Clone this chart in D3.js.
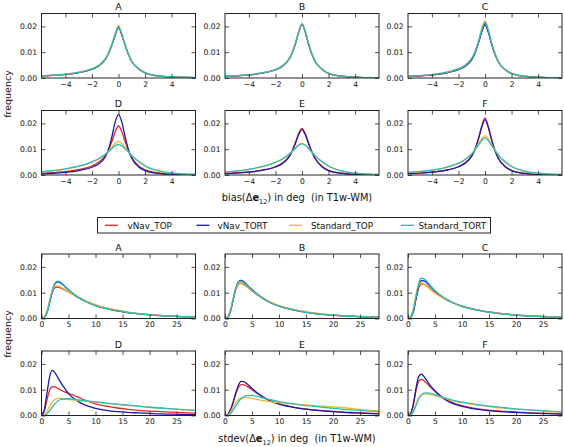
<!DOCTYPE html>
<html><head><meta charset="utf-8">
<script src="https://cdn.jsdelivr.net/npm/d3@7"></script>
<style>
html,body{margin:0;padding:0;background:#fff;}
svg{display:block;font-family:"DejaVu Sans",sans-serif;}
</style></head>
<body>
<svg id="chart" width="564" height="447"></svg>
<script>
// ---------- data ----------
const seriesNames = ["vNav_TOP","vNav_TORT","Standard_TOP","Standard_TORT"];
const panelNames = ["A","B","C","D","E","F"];
const biasTicks = [-4,-2,0,2,4];
const stdTicks = [0,5,10,15,20,25];
const yTicks = [0,0.01,0.02];
const biasX = [-5.8,-5,-4,-3,-2,-1.5,-1,-0.75,-0.5,-0.25,0,0.25,0.5,0.75,1,1.5,2,3,4,5,5.8];
const stdX = [0,0.5,1,1.5,2,2.5,3,3.5,4,5,6,7,8,10,12,14,16,18,20,22,24,26,28.5];

// bias panels
const biasA_vNav_TOP      = [0.0008,0.0010,0.0014,0.0021,0.0034,0.0047,0.0072,0.0095,0.0128,0.0167,0.0196,0.0168,0.0127,0.0091,0.0064,0.0036,0.0020,0.0008,0.0004,0.0002,0.0001];
const biasA_vNav_TORT     = [0.0008,0.0010,0.0014,0.0021,0.0034,0.0047,0.0072,0.0095,0.0128,0.0166,0.0195,0.0167,0.0127,0.0091,0.0064,0.0036,0.0020,0.0008,0.0004,0.0002,0.0001];
const biasA_Standard_TOP  = [0.0008,0.0011,0.0015,0.0023,0.0036,0.0049,0.0074,0.0097,0.0131,0.0172,0.0203,0.0172,0.0129,0.0092,0.0064,0.0035,0.0019,0.0008,0.0004,0.0002,0.0001];
const biasA_Standard_TORT = [0.0008,0.0010,0.0014,0.0022,0.0035,0.0048,0.0073,0.0096,0.0130,0.0169,0.0199,0.0170,0.0128,0.0092,0.0064,0.0036,0.0020,0.0008,0.0004,0.0002,0.0001];

const biasB_vNav_TOP      = [0.0006,0.0008,0.0012,0.0019,0.0032,0.0045,0.0071,0.0096,0.0133,0.0178,0.0209,0.0178,0.0131,0.0092,0.0063,0.0034,0.0018,0.0007,0.0003,0.0001,0.0001];
const biasB_vNav_TORT     = [0.0006,0.0008,0.0012,0.0019,0.0032,0.0045,0.0071,0.0096,0.0132,0.0177,0.0208,0.0177,0.0130,0.0092,0.0063,0.0034,0.0018,0.0007,0.0003,0.0001,0.0001];
const biasB_Standard_TOP  = [0.0007,0.0009,0.0013,0.0020,0.0033,0.0046,0.0072,0.0097,0.0134,0.0180,0.0212,0.0180,0.0132,0.0093,0.0063,0.0034,0.0018,0.0007,0.0003,0.0001,0.0001];
const biasB_Standard_TORT = [0.0006,0.0009,0.0013,0.0020,0.0033,0.0046,0.0072,0.0096,0.0133,0.0179,0.0210,0.0179,0.0131,0.0092,0.0063,0.0034,0.0018,0.0007,0.0003,0.0001,0.0001];

const biasC_vNav_TOP      = [0.0006,0.0008,0.0012,0.0019,0.0033,0.0046,0.0072,0.0098,0.0136,0.0182,0.0212,0.0181,0.0133,0.0093,0.0063,0.0033,0.0017,0.0006,0.0003,0.0001,0.0001];
const biasC_vNav_TORT     = [0.0006,0.0008,0.0012,0.0019,0.0033,0.0046,0.0071,0.0097,0.0134,0.0178,0.0206,0.0177,0.0131,0.0092,0.0063,0.0033,0.0017,0.0006,0.0003,0.0001,0.0001];
const biasC_Standard_TOP  = [0.0007,0.0009,0.0014,0.0022,0.0036,0.0050,0.0077,0.0103,0.0142,0.0190,0.0222,0.0189,0.0137,0.0095,0.0064,0.0033,0.0017,0.0006,0.0003,0.0001,0.0001];
const biasC_Standard_TORT = [0.0007,0.0009,0.0013,0.0021,0.0035,0.0048,0.0075,0.0101,0.0139,0.0186,0.0216,0.0185,0.0135,0.0094,0.0064,0.0034,0.0018,0.0007,0.0003,0.0001,0.0001];

const biasD_vNav_TOP      = [0.0006,0.0009,0.0013,0.0021,0.0035,0.0049,0.0075,0.0098,0.0130,0.0168,0.0190,0.0168,0.0130,0.0094,0.0068,0.0036,0.0020,0.0008,0.0003,0.0001,0.0001];
const biasD_vNav_TORT     = [0.0004,0.0006,0.0010,0.0017,0.0030,0.0043,0.0070,0.0100,0.0148,0.0205,0.0235,0.0205,0.0148,0.0098,0.0065,0.0032,0.0017,0.0006,0.0002,0.0001,0.0000];
const biasD_Standard_TOP  = [0.0012,0.0016,0.0023,0.0033,0.0050,0.0062,0.0080,0.0093,0.0108,0.0122,0.0130,0.0122,0.0106,0.0090,0.0075,0.0052,0.0034,0.0015,0.0007,0.0003,0.0002];
const biasD_Standard_TORT = [0.0013,0.0017,0.0024,0.0034,0.0051,0.0063,0.0080,0.0091,0.0103,0.0114,0.0118,0.0113,0.0102,0.0089,0.0075,0.0054,0.0036,0.0017,0.0008,0.0004,0.0002];

const biasE_vNav_TOP      = [0.0006,0.0008,0.0012,0.0019,0.0032,0.0045,0.0070,0.0093,0.0125,0.0161,0.0181,0.0160,0.0123,0.0089,0.0064,0.0034,0.0018,0.0007,0.0003,0.0001,0.0001];
const biasE_vNav_TORT     = [0.0005,0.0007,0.0011,0.0018,0.0031,0.0044,0.0068,0.0091,0.0122,0.0157,0.0176,0.0156,0.0121,0.0088,0.0063,0.0032,0.0017,0.0006,0.0002,0.0001,0.0000];
const biasE_Standard_TOP  = [0.0011,0.0015,0.0022,0.0032,0.0049,0.0061,0.0079,0.0091,0.0105,0.0117,0.0123,0.0116,0.0103,0.0088,0.0074,0.0051,0.0034,0.0015,0.0007,0.0003,0.0002];
const biasE_Standard_TORT = [0.0011,0.0015,0.0022,0.0032,0.0049,0.0061,0.0079,0.0090,0.0103,0.0115,0.0121,0.0115,0.0102,0.0088,0.0074,0.0052,0.0035,0.0016,0.0007,0.0003,0.0002];

const biasF_vNav_TOP      = [0.0005,0.0007,0.0011,0.0018,0.0032,0.0046,0.0074,0.0101,0.0140,0.0189,0.0221,0.0188,0.0137,0.0096,0.0066,0.0034,0.0018,0.0006,0.0002,0.0001,0.0000];
const biasF_vNav_TORT     = [0.0005,0.0007,0.0011,0.0018,0.0032,0.0046,0.0073,0.0100,0.0138,0.0185,0.0215,0.0184,0.0135,0.0095,0.0065,0.0033,0.0017,0.0006,0.0002,0.0001,0.0000];
const biasF_Standard_TOP  = [0.0009,0.0012,0.0018,0.0028,0.0045,0.0059,0.0082,0.0099,0.0120,0.0141,0.0153,0.0140,0.0118,0.0097,0.0078,0.0050,0.0032,0.0013,0.0006,0.0003,0.0002];
const biasF_Standard_TORT = [0.0010,0.0013,0.0019,0.0029,0.0046,0.0060,0.0082,0.0097,0.0115,0.0133,0.0144,0.0133,0.0114,0.0096,0.0078,0.0052,0.0034,0.0015,0.0007,0.0003,0.0002];

// stdev panels
const stdA_vNav_TOP       = [0,0.0005,0.0025,0.0065,0.0103,0.0120,0.0122,0.0119,0.0114,0.0103,0.0091,0.0079,0.0069,0.0052,0.0040,0.0031,0.0024,0.0019,0.0015,0.0012,0.0009,0.0007,0.0005];
const stdA_vNav_TORT      = [0,0.0004,0.0022,0.0061,0.0106,0.0135,0.0142,0.0138,0.0130,0.0111,0.0094,0.0080,0.0068,0.0050,0.0038,0.0030,0.0023,0.0018,0.0014,0.0011,0.0009,0.0007,0.0005];
const stdA_Standard_TOP   = [0,0.0006,0.0028,0.0070,0.0108,0.0124,0.0126,0.0122,0.0116,0.0104,0.0092,0.0080,0.0070,0.0053,0.0041,0.0032,0.0025,0.0019,0.0015,0.0012,0.0009,0.0007,0.0005];
const stdA_Standard_TORT  = [0,0.0004,0.0022,0.0062,0.0108,0.0138,0.0145,0.0141,0.0132,0.0112,0.0094,0.0080,0.0068,0.0050,0.0038,0.0030,0.0023,0.0018,0.0014,0.0011,0.0009,0.0007,0.0005];

const stdB_vNav_TOP       = [0,0.0005,0.0028,0.0072,0.0113,0.0133,0.0137,0.0132,0.0124,0.0107,0.0091,0.0078,0.0066,0.0049,0.0037,0.0029,0.0022,0.0017,0.0013,0.0010,0.0008,0.0006,0.0005];
const stdB_vNav_TORT      = [0,0.0005,0.0027,0.0072,0.0118,0.0143,0.0148,0.0142,0.0132,0.0112,0.0094,0.0079,0.0066,0.0048,0.0036,0.0028,0.0021,0.0016,0.0013,0.0010,0.0008,0.0006,0.0004];
const stdB_Standard_TOP   = [0,0.0007,0.0032,0.0077,0.0116,0.0133,0.0135,0.0130,0.0123,0.0107,0.0092,0.0079,0.0068,0.0050,0.0038,0.0030,0.0023,0.0018,0.0014,0.0011,0.0008,0.0006,0.0005];
const stdB_Standard_TORT  = [0,0.0005,0.0028,0.0074,0.0118,0.0141,0.0145,0.0139,0.0130,0.0110,0.0093,0.0079,0.0066,0.0048,0.0036,0.0028,0.0021,0.0016,0.0013,0.0010,0.0008,0.0006,0.0004];

const stdC_vNav_TOP       = [0,0.0006,0.0030,0.0080,0.0120,0.0134,0.0133,0.0126,0.0117,0.0100,0.0086,0.0074,0.0064,0.0048,0.0037,0.0029,0.0023,0.0018,0.0014,0.0011,0.0009,0.0007,0.0005];
const stdC_vNav_TORT      = [0,0.0005,0.0027,0.0078,0.0127,0.0147,0.0146,0.0138,0.0127,0.0106,0.0089,0.0075,0.0064,0.0047,0.0036,0.0028,0.0022,0.0017,0.0013,0.0010,0.0008,0.0006,0.0005];
const stdC_Standard_TOP   = [0,0.0008,0.0040,0.0095,0.0130,0.0138,0.0133,0.0125,0.0116,0.0099,0.0085,0.0073,0.0063,0.0048,0.0037,0.0029,0.0023,0.0018,0.0014,0.0011,0.0009,0.0007,0.0005];
const stdC_Standard_TORT  = [0,0.0006,0.0032,0.0088,0.0137,0.0156,0.0153,0.0143,0.0131,0.0108,0.0090,0.0076,0.0064,0.0047,0.0036,0.0028,0.0022,0.0017,0.0013,0.0010,0.0008,0.0006,0.0005];

const stdD_vNav_TOP       = [0,0.0015,0.0060,0.0098,0.0112,0.0111,0.0105,0.0099,0.0094,0.0086,0.0078,0.0069,0.0060,0.0045,0.0036,0.0029,0.0024,0.0020,0.0017,0.0015,0.0013,0.0011,0.0009];
const stdD_vNav_TORT      = [0,0.0020,0.0085,0.0150,0.0175,0.0165,0.0148,0.0130,0.0114,0.0085,0.0066,0.0052,0.0041,0.0028,0.0020,0.0015,0.0012,0.0010,0.0008,0.0006,0.0005,0.0004,0.0003];
const stdD_Standard_TOP   = [0,0.0002,0.0014,0.0035,0.0053,0.0062,0.0066,0.0066,0.0065,0.0062,0.0060,0.0058,0.0056,0.0052,0.0047,0.0043,0.0039,0.0036,0.0032,0.0029,0.0026,0.0023,0.0020];
const stdD_Standard_TORT  = [0,0.0001,0.0006,0.0018,0.0033,0.0046,0.0056,0.0062,0.0064,0.0065,0.0063,0.0060,0.0058,0.0053,0.0048,0.0044,0.0040,0.0036,0.0032,0.0029,0.0026,0.0023,0.0020];

const stdE_vNav_TOP       = [0,0.0004,0.0022,0.0052,0.0085,0.0110,0.0120,0.0119,0.0114,0.0100,0.0085,0.0072,0.0061,0.0045,0.0035,0.0028,0.0023,0.0019,0.0016,0.0013,0.0011,0.0009,0.0007];
const stdE_vNav_TORT      = [0,0.0003,0.0020,0.0050,0.0088,0.0118,0.0132,0.0131,0.0124,0.0105,0.0087,0.0072,0.0060,0.0044,0.0034,0.0027,0.0022,0.0018,0.0015,0.0012,0.0010,0.0008,0.0006];
const stdE_Standard_TOP   = [0,0.0002,0.0012,0.0032,0.0050,0.0062,0.0068,0.0070,0.0069,0.0066,0.0062,0.0058,0.0055,0.0050,0.0046,0.0042,0.0039,0.0036,0.0033,0.0030,0.0026,0.0022,0.0018];
const stdE_Standard_TORT  = [0,0.0001,0.0007,0.0020,0.0038,0.0053,0.0066,0.0073,0.0077,0.0078,0.0074,0.0068,0.0063,0.0054,0.0047,0.0041,0.0036,0.0032,0.0028,0.0024,0.0021,0.0018,0.0015];

const stdF_vNav_TOP       = [0,0.0008,0.0042,0.0098,0.0133,0.0140,0.0134,0.0124,0.0113,0.0094,0.0077,0.0063,0.0052,0.0038,0.0029,0.0023,0.0019,0.0016,0.0013,0.0011,0.0009,0.0008,0.0006];
const stdF_vNav_TORT      = [0,0.0008,0.0045,0.0108,0.0152,0.0160,0.0150,0.0135,0.0120,0.0095,0.0075,0.0060,0.0049,0.0035,0.0027,0.0021,0.0017,0.0014,0.0012,0.0010,0.0008,0.0007,0.0005];
const stdF_Standard_TOP   = [0,0.0003,0.0018,0.0045,0.0068,0.0080,0.0084,0.0084,0.0082,0.0077,0.0071,0.0065,0.0059,0.0050,0.0043,0.0037,0.0032,0.0028,0.0025,0.0022,0.0019,0.0016,0.0013];
const stdF_Standard_TORT  = [0,0.0002,0.0014,0.0040,0.0066,0.0081,0.0087,0.0088,0.0087,0.0081,0.0074,0.0067,0.0061,0.0052,0.0045,0.0039,0.0034,0.0030,0.0026,0.0023,0.0020,0.0017,0.0014];

// ---------- build tables ----------
const colors = ["#e0262a","#1a1aa8","#f2b630","#2bbcb8"];
const biasData = {
  A:[biasA_vNav_TOP,biasA_vNav_TORT,biasA_Standard_TOP,biasA_Standard_TORT],
  B:[biasB_vNav_TOP,biasB_vNav_TORT,biasB_Standard_TOP,biasB_Standard_TORT],
  C:[biasC_vNav_TOP,biasC_vNav_TORT,biasC_Standard_TOP,biasC_Standard_TORT],
  D:[biasD_vNav_TOP,biasD_vNav_TORT,biasD_Standard_TOP,biasD_Standard_TORT],
  E:[biasE_vNav_TOP,biasE_vNav_TORT,biasE_Standard_TOP,biasE_Standard_TORT],
  F:[biasF_vNav_TOP,biasF_vNav_TORT,biasF_Standard_TOP,biasF_Standard_TORT]
};
const stdData = {
  A:[stdA_vNav_TOP,stdA_vNav_TORT,stdA_Standard_TOP,stdA_Standard_TORT],
  B:[stdB_vNav_TOP,stdB_vNav_TORT,stdB_Standard_TOP,stdB_Standard_TORT],
  C:[stdC_vNav_TOP,stdC_vNav_TORT,stdC_Standard_TOP,stdC_Standard_TORT],
  D:[stdD_vNav_TOP,stdD_vNav_TORT,stdD_Standard_TOP,stdD_Standard_TORT],
  E:[stdE_vNav_TOP,stdE_vNav_TORT,stdE_Standard_TOP,stdE_Standard_TORT],
  F:[stdF_vNav_TOP,stdF_vNav_TORT,stdF_Standard_TOP,stdF_Standard_TORT]
};

// ---------- layout ----------
const svg = d3.select("#chart");
const colX = [41.5, 225, 408];
const pw = 154, ph = 64.5;
const topRows = [13.5, 110.5];
const botRows = [254, 351];
const axisColor = "#222";
const tickFont = 7.6;

function fmtMinus(d){ return d < 0 ? "\u2212" + Math.abs(d) : String(d); }

function drawPanel(x0, y0, name, xs, seriesList, xDomain, xTickVals, clipId){
  const g = svg.append("g").attr("transform", `translate(${x0},${y0})`);
  const x = d3.scaleLinear().domain(xDomain).range([0, pw]);
  const y = d3.scaleLinear().domain([0, 0.025]).range([ph, 0]);

  g.append("clipPath").attr("id", clipId).append("rect").attr("width", pw).attr("height", ph);
  const line = d3.line().x((d,i)=>x(xs[i])).y(d=>y(d)).curve(d3.curveMonotoneX);
  const lg = g.append("g").attr("clip-path", `url(#${clipId})`);
  seriesList.forEach((s, k) => {
    lg.append("path").datum(s).attr("d", line)
      .attr("fill", "none").attr("stroke", colors[k]).attr("stroke-width", 1.3)
      .attr("stroke-linejoin","round");
  });

  const tl = 4;
  const ax = g.append("g").attr("transform", `translate(0,${ph})`)
    .call(d3.axisBottom(x).tickValues(xTickVals).tickSizeInner(-tl).tickSizeOuter(0).tickPadding(3.5).tickFormat(fmtMinus));
  const axT = g.append("g")
    .call(d3.axisTop(x).tickValues(xTickVals).tickSizeInner(-tl).tickSizeOuter(0).tickFormat(""));
  const ay = g.append("g")
    .call(d3.axisLeft(y).tickValues(yTicks).tickSizeInner(-tl).tickSizeOuter(0).tickPadding(4.5).tickFormat(d3.format(".2f")));
  const ayR = g.append("g").attr("transform", `translate(${pw},0)`)
    .call(d3.axisRight(y).tickValues(yTicks).tickSizeInner(-tl).tickSizeOuter(0).tickFormat(""));
  [ax, axT, ay, ayR].forEach(a => {
    a.select(".domain").remove();
    a.selectAll("line").attr("stroke", axisColor).attr("stroke-width", 0.8);
    a.selectAll("text").attr("font-size", tickFont).attr("font-family", "DejaVu Sans").attr("fill", "#111");
  });
  g.append("rect").attr("width", pw).attr("height", ph)
    .attr("fill", "none").attr("stroke", axisColor).attr("stroke-width", 1);
  g.append("text").attr("x", pw/2).attr("y", -3.5).attr("text-anchor","middle")
    .attr("font-size", 9.5).attr("fill", "#111").text(name);
}

panelNames.forEach((p, i) => {
  const c = i % 3, r = Math.floor(i / 3);
  drawPanel(colX[c], topRows[r], p, biasX, biasData[p], [-5.8, 5.8], biasTicks, "cb" + i);
  drawPanel(colX[c], botRows[r], p, stdX, stdData[p], [0, 28.5], stdTicks, "cs" + i);
});

// y labels
function ylabel(cy){
  svg.append("text").attr("transform", `translate(11,${cy}) rotate(-90)`)
    .attr("text-anchor","middle").attr("font-size", 9.5).attr("fill","#111").text("frequency");
}
ylabel(94);
ylabel(334);

// x labels
function xlabel(cx, by, prefix){
  const t = svg.append("text").attr("x", cx).attr("y", by).attr("text-anchor","middle")
    .attr("font-size", 9.8).attr("fill","#111").style("white-space","pre");
  t.append("tspan").text(prefix + "(\u0394");
  t.append("tspan").attr("font-weight","bold").text("e");
  t.append("tspan").attr("font-size", 6.5).attr("dy", 2.5).text("12");
  t.append("tspan").attr("dy", -2.5).text(") in deg  (in T1w-WM)");
}
xlabel(297, 201, "bias");
xlabel(297, 442, "stdev");

// legend
const leg = svg.append("g");
leg.append("rect").attr("x", 97.5).attr("y", 217.5).attr("width", 393).attr("height", 15.5)
  .attr("fill","#fff").attr("stroke", axisColor).attr("stroke-width", 1);
const legLineX = [105, 196.5, 289, 401];
const legTextX = [127.5, 217.5, 311, 418.5];
seriesNames.forEach((n, k) => {
  leg.append("line").attr("x1", legLineX[k]).attr("x2", legLineX[k] + 13).attr("y1", 225.3).attr("y2", 225.3)
    .attr("stroke", colors[k]).attr("stroke-width", 1.3);
  leg.append("text").attr("x", legTextX[k]).attr("y", 228.5).attr("font-size", 8.8)
    .attr("fill","#111").text(n);
});
</script>
</body></html>
